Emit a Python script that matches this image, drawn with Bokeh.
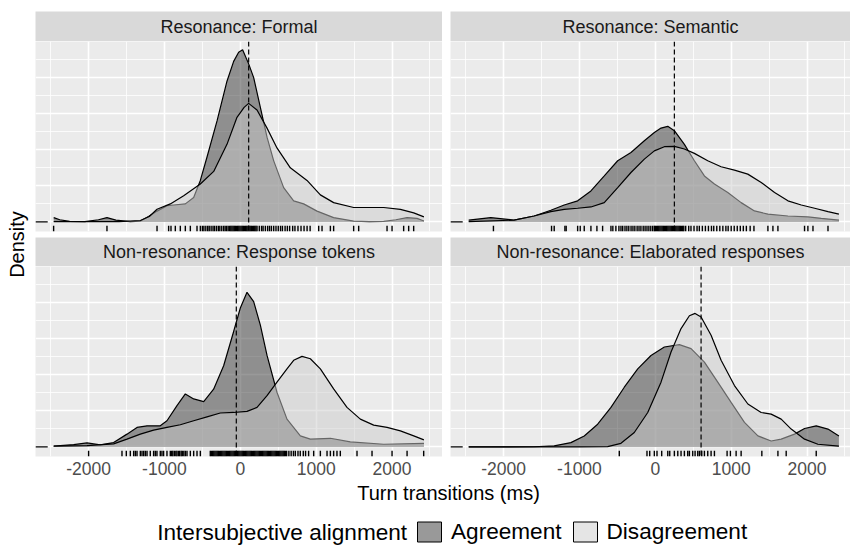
from math import pi
from bokeh.plotting import figure
from bokeh.layouts import row, column
from bokeh.models import Range1d, FixedTicker, Grid, LinearAxis, Span, Legend, LegendItem
from bokeh.embed import file_html
from bokeh.resources import INLINE
from bokeh.core.properties import value

FONT = "Liberation Sans"

# ---------------- data (density values are x 1e-4 per ms) ----------------
panel_titles = ["Resonance: Formal", "Resonance: Semantic",
                "Non-resonance: Response tokens", "Non-resonance: Elaborated responses"]
groups = ["Agreement", "Disagreement"]
legend_title = "Intersubjective alignment"
x_title = "Turn transitions (ms)"
y_title = "Density"
medians = [110, 251, -53, 603]
x_tick_values = [-2000, -1000, 0, 1000, 2000]
x_tick_labels = ["-2000", "-1000", "0", "1000", "2000"]
x_minor_values = [-2500, -1500, -500, 500, 1500, 2500]
y_major_values = [0, 2, 4, 6, 8]
y_minor_values = [1, 3, 5, 7, 9]

formal_agree_x = [-2460, -2380, -2250, -2050, -1870, -1758, -1640, -1450, -1318, -1210, -1098, -966, -879,
                  -725, -615, -527, -439, -307, -176, -88, -22, 30, 110, 176, 264, 352, 439, 571, 703, 835,
                  1011, 1230, 1494, 1700, 1890, 2050, 2198, 2330, 2420]
formal_agree_y = [0.24, 0.12, 0.03, 0.02, 0.12, 0.24, 0.10, 0.02, 0.05, 0.30, 0.60, 0.90, 0.94,
                  1.00, 1.35, 2.30, 3.60, 5.60, 7.80, 8.90, 9.40, 9.54, 8.76, 8.00, 6.35, 4.70, 3.40, 1.90, 1.17, 1.00,
                  0.60, 0.24, 0.05, 0.02, 0.03, 0.12, 0.24, 0.20, 0.05]
formal_disagree_x = [-2460, -2000, -1600, -1318, -1200, -1098, -923, -747, -527, -351, -176, -44, 50, 110,
                     220, 352, 483, 659, 879, 1055, 1230, 1494, 1890, 2110, 2286, 2420]
formal_disagree_y = [0.02, 0.02, 0.02, 0.08, 0.30, 0.70, 1.00, 1.45, 2.10, 2.80, 4.30, 5.80, 6.35, 6.57,
                     6.20, 5.20, 4.10, 3.00, 2.30, 1.50, 1.07, 0.80, 0.80, 0.70, 0.50, 0.28]
formal_rug = [-2461, -1758, -1098, -945, -914, -857, -791, -725, -659, -571, -527, -500, -480, -455, -430,
              -410, -385, -360, -340, -315, -290, -270, -245, -220, -200, -180, -160, -140, -125, -110, -95,
              -80, -65, -50, -35, -20, -5, 10, 25, 40, 55, 70, 85, 100, 115, 130, 145, 160, 175, 190, 205,
              220, 250, 280, 300, 330, 360, 385, 410, 440, 470, 500, 530, 555, 590, 620, 650, 690, 720, 760,
              800, 840, 880, 920, 1033, 1077, 1187, 1230, 1494, 1560, 1934, 2000, 2153, 2219, 2285]

semantic_agree_x = [-2460, -2169, -1861, -1597, -1377, -1201, -1024, -849, -673, -496, -321, -145, -13, 75,
                    164, 251, 383, 515, 647, 779, 955, 1131, 1307, 1484, 1748, 2012, 2187, 2420]
semantic_agree_y = [0.10, 0.24, 0.10, 0.33, 0.65, 0.94, 1.17, 1.72, 2.55, 3.39, 3.85, 4.50, 4.96, 5.20,
                    5.30, 5.06, 4.30, 3.39, 2.55, 2.10, 1.63, 1.07, 0.61, 0.43, 0.33, 0.28, 0.20, 0.10]
semantic_disagree_x = [-2460, -1861, -1597, -1377, -1201, -1024, -849, -673, -496, -321, -145, -13, 119,
                       251, 383, 515, 691, 867, 1043, 1219, 1396, 1572, 1748, 1924, 2100, 2276, 2420]
semantic_disagree_y = [0.02, 0.10, 0.33, 0.57, 0.70, 0.76, 0.83, 1.07, 1.90, 2.74, 3.48, 3.94, 4.17,
                       4.19, 4.04, 3.80, 3.39, 3.06, 2.87, 2.65, 2.19, 1.63, 1.17, 0.94, 0.76, 0.57, 0.43]
semantic_rug = [-2134, -1368, -1333, -1192, -1175, -1024, -990, -937, -849, -770, -695, -585, -560, -520,
                -480, -453, -430, -400, -375, -350, -320, -295, -270, -240, -215, -190, -160, -135, -110,
                -85, -60, -35, -13, 0, 15, 30, 45, 60, 75, 90, 105, 120, 135, 150, 165, 180, 195, 210, 225,
                240, 255, 270, 285, 300, 315, 330, 345, 360, 375, 400, 440, 470, 510, 550, 580, 620, 660,
                700, 740, 770, 810, 850, 890, 930, 960, 1000, 1040, 1080, 1120, 1160, 1200, 1250, 1300,
                1484, 1550, 1616, 1967, 2011, 2078, 2276]

tokens_agree_x = [-2460, -2197, -2021, -1846, -1670, -1494, -1362, -1230, -1055, -967, -835, -725, -615,
                  -483, -352, -220, -88, 0, 88, 176, 264, 352, 483, 615, 791, 923, 1187, 1450, 1890, 2420]
tokens_agree_y = [0.04, 0.13, 0.22, 0.11, 0.24, 0.71, 1.08, 1.17, 1.17, 1.45, 2.29, 2.94, 2.66,
                  2.51, 3.20, 4.50, 6.40, 7.70, 8.57, 8.05, 6.75, 5.07, 3.03, 1.54, 0.61, 0.43, 0.48, 0.28,
                  0.15, 0.20]
tokens_disagree_x = [-2460, -2021, -1670, -1494, -1318, -1143, -967, -791, -615, -439, -264, -88, 88, 220,
                     352, 483, 615, 703, 813, 923, 1055, 1230, 1406, 1582, 1758, 1934, 2110, 2286, 2420]
tokens_disagree_y = [0.04, 0.07, 0.17, 0.43, 0.71, 0.93, 1.08, 1.23, 1.45, 1.67, 1.88, 1.91, 1.97, 2.19,
                     2.84, 3.59, 4.33, 4.80, 5.02, 4.89, 4.33, 3.22, 2.19, 1.54, 1.21, 1.08, 0.89, 0.61, 0.39]
tokens_rug = [-2000, -1560, -1503, -1450, -1406, -1384, -1362, -1318, -1296, -1274, -1252, -1230, -1187,
              -1143, -1121, -1099, -1055, -1033, -1011, -967, -923, -905, -890, -870, -850, -835, -815, -800,
              -780, -765, -745, -725, -703, -659, -615, -571, -527, -396, -380, -365, -350, -335, -320, -305,
              -290, -275, -260, -245, -230, -215, -200, -185, -170, -155, -140, -125, -110, -95, -80, -65,
              -50, -35, -20, -5, 10, 25, 40, 55, 70, 85, 100, 115, 130, 145, 160, 175, 190, 205, 220, 235,
              250, 265, 280, 295, 310, 325, 340, 355, 370, 385, 400, 415, 430, 445, 460, 475, 490, 505, 520,
              535, 550, 565, 580, 595, 610, 640, 670, 700, 725, 760, 790, 830, 860, 900, 967, 1055, 1143,
              1187, 1230, 1274, 1318, 1538, 1736, 2000, 2198, 2417]

elab_agree_x = [-2460, -1600, -1333, -1113, -937, -760, -585, -409, -232, -57, 119, 317, 471, 647, 823,
                999, 1175, 1352, 1527, 1659, 1835, 1967, 2121, 2276, 2420]
elab_agree_y = [0.00, 0.01, 0.06, 0.24, 0.61, 1.26, 2.19, 3.31, 4.33, 5.07, 5.54, 5.67, 5.45, 4.70, 3.59,
                2.47, 1.36, 0.61, 0.33, 0.43, 0.71, 1.02, 1.17, 0.99, 0.61]
elab_disagree_x = [-2460, -1000, -628, -453, -277, -100, 75, 207, 339, 449, 524, 603, 735, 867, 1043, 1220,
                   1395, 1527, 1659, 1791, 1967, 2143, 2420]
elab_disagree_y = [0.00, 0.00, 0.02, 0.20, 0.80, 1.91, 3.59, 5.26, 6.56, 7.27, 7.40, 7.20, 6.19, 4.80,
                   3.40, 2.38, 1.91, 1.82, 1.54, 0.99, 0.43, 0.15, 0.04]
elab_rug = [-475, -110, -74, -13, 22, 84, 164, 190, 251, 296, 339, 383, 427, 449, 493, 524, 559, 581, 612,
            647, 691, 735, 779, 946, 990, 1065, 1131, 1404, 1616, 1725, 2121]

panels = [
    (formal_agree_x, formal_agree_y, formal_disagree_x, formal_disagree_y, formal_rug),
    (semantic_agree_x, semantic_agree_y, semantic_disagree_x, semantic_disagree_y, semantic_rug),
    (tokens_agree_x, tokens_agree_y, tokens_disagree_x, tokens_disagree_y, tokens_rug),
    (elab_agree_x, elab_agree_y, elab_disagree_x, elab_disagree_y, elab_rug),
]

# ---------------- styling / layout ----------------
FILL_AGREE = "#333333"
FILL_DISAGREE = "#CCCCCC"
PANEL_BG = "#EBEBEB"
STRIP_BG = "#D9D9D9"

X_START, X_END = -2700, 2665
Y_BOTTOM, Y_TOP = -0.53, 10.0
LEFT_W, RIGHT_W = 407, 400
PANEL_H = 190
GAP = 8
DENS_W = 31
LEFT_PAD = 4
TOTAL_W = DENS_W + LEFT_PAD + LEFT_W + GAP + RIGHT_W
TOP_PAD = 11
BOTTOM_AXIS = 25
TOTAL_H = 545
TOP_H = TOP_PAD + 30 + PANEL_H + 6 + 29 + PANEL_H + BOTTOM_AXIS
BOTTOM_H = TOTAL_H - TOP_H


def base_fig(**kw):
    return figure(output_backend="svg", toolbar_location=None, x_axis_type=None, y_axis_type=None,
                  outline_line_color=None, border_fill_color="white", **kw)


def make_strip(title, frame_w, left_pad, top):
    s = base_fig(frame_width=frame_w, frame_height=30 if top else 29,
                 x_range=Range1d(0, 1), y_range=Range1d(0, 1),
                 min_border_left=left_pad, min_border_right=0, min_border_top=TOP_PAD if top else 0,
                 min_border_bottom=0, background_fill_color=STRIP_BG)
    s.text(x=[0.5], y=[0.5], text=[title], text_align="center", text_baseline="middle",
           text_font=value(FONT), text_font_size="18px", text_color="#1A1A1A")
    return s


def make_panel(i, frame_w, left_pad, bottom):
    ax_, ay_, dx_, dy_, rug = panels[i]
    x_end = X_START + (X_END - X_START) * frame_w / LEFT_W
    p = base_fig(frame_width=frame_w, frame_height=PANEL_H,
                 x_range=Range1d(X_START, x_end), y_range=Range1d(Y_BOTTOM, Y_TOP),
                 min_border_left=left_pad, min_border_right=0, min_border_top=0,
                 min_border_bottom=BOTTOM_AXIS if bottom else 6, background_fill_color=PANEL_BG)
    p.add_layout(Grid(dimension=0, ticker=FixedTicker(ticks=x_tick_values, minor_ticks=x_minor_values),
                      grid_line_color="white", grid_line_width=1.6,
                      minor_grid_line_color="white", minor_grid_line_width=0.8))
    p.add_layout(Grid(dimension=1, ticker=FixedTicker(ticks=y_major_values, minor_ticks=y_minor_values),
                      grid_line_color="white", grid_line_width=1.6,
                      minor_grid_line_color="white", minor_grid_line_width=0.8))
    p.varea(x=ax_, y1=[0] * len(ax_), y2=ay_, fill_color=FILL_AGREE, fill_alpha=0.5)
    p.line(ax_, ay_, line_color="black", line_width=1.2)
    p.varea(x=dx_, y1=[0] * len(dx_), y2=dy_, fill_color=FILL_DISAGREE, fill_alpha=0.5)
    p.line(dx_, dy_, line_color="black", line_width=1.2)
    rug_len = 0.03 * (Y_TOP - Y_BOTTOM)
    n = len(rug)
    p.segment(x0=rug, y0=[Y_BOTTOM] * n, x1=rug, y1=[Y_BOTTOM + rug_len] * n,
              line_color="black", line_width=1.4)
    # left-side rug of the y = 0 values
    p.segment(x0=[X_START], y0=[0], x1=[X_START + 0.03 * (X_END - X_START)], y1=[0],
              line_color="black", line_width=1.3)
    p.add_layout(Span(location=medians[i], dimension="height", line_color="black",
                      line_width=1.2, line_dash="5 3"))
    if bottom:
        ax = LinearAxis(ticker=FixedTicker(ticks=x_tick_values),
                        major_label_overrides=dict(zip(x_tick_values, x_tick_labels)),
                        axis_line_color=None, major_tick_line_color=None, minor_tick_line_color=None,
                        major_tick_out=0, major_tick_in=0, minor_tick_out=0, major_label_standoff=5,
                        major_label_text_font=FONT, major_label_text_font_size="17.5px",
                        major_label_text_color="#4D4D4D")
        p.add_layout(ax, "below")
    return p


cells = []
for i in range(4):
    left = i % 2 == 0
    w = LEFT_W if left else RIGHT_W
    pad = LEFT_PAD if left else GAP
    cells.append(column(make_strip(panel_titles[i], w, pad, i < 2), make_panel(i, w, pad, i >= 2)))
grid = column(row(cells[0], cells[1]), row(cells[2], cells[3]))

dens = base_fig(width=DENS_W, height=TOP_H, x_range=Range1d(0, DENS_W), y_range=Range1d(0, TOP_H),
                min_border=0)
dens.text(x=[16], y=[TOP_H - 244], text=[y_title], angle=[pi / 2], text_align="center",
          text_baseline="middle", text_font=value(FONT), text_font_size="20px", text_color="black")

# bottom area: y measured upward from the page bottom of this strip
bot = base_fig(width=TOTAL_W, height=BOTTOM_H, x_range=Range1d(0, TOTAL_W), y_range=Range1d(0, BOTTOM_H),
               min_border=0)
bot.text(x=[448], y=[TOTAL_H - 492.5], text=[x_title], text_align="center",
         text_baseline="middle", text_font=value(FONT), text_font_size="20px", text_color="black")
bot.text(x=[156.7], y=[13], text=[legend_title], text_align="left",
         text_baseline="middle", text_font=value(FONT), text_font_size="22.6px", text_color="black")
# legend proxies placed outside the visible range (only their key is shown)
r_a = bot.rect(x=[-100], y=[-100], width=1, height=1, fill_color=FILL_AGREE, fill_alpha=0.5,
               line_color="black", line_width=1)
r_d = bot.rect(x=[-100], y=[-100], width=1, height=1, fill_color=FILL_DISAGREE, fill_alpha=0.5,
               line_color="black", line_width=1)
leg = Legend(items=[LegendItem(label=groups[0], renderers=[r_a]),
                    LegendItem(label=groups[1], renderers=[r_d])],
             orientation="horizontal", location=(414, 0.5),
             glyph_width=30, glyph_height=25, label_height=25, label_standoff=7, spacing=8,
             padding=0, margin=0, border_line_color=None, background_fill_alpha=0,
             label_text_font=FONT, label_text_font_size="22.6px", label_text_color="black",
             label_text_baseline="middle")
bot.add_layout(leg)

root = column(row(dens, grid), bot)
open("out.html", "w").write(file_html(root, INLINE))
